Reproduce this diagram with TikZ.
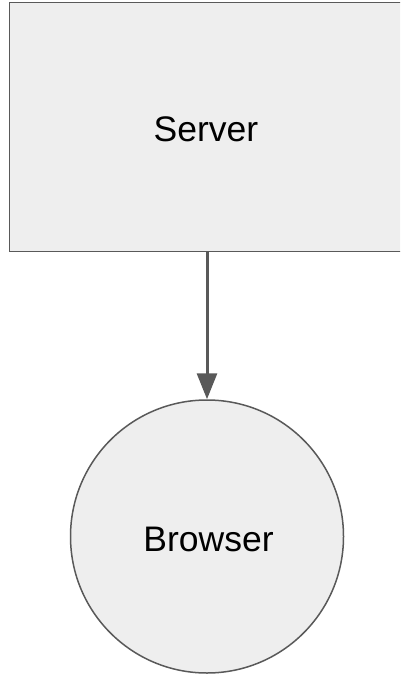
\documentclass[tikz,border=0pt]{standalone}
\usepackage{fontspec}
\setmainfont{Liberation Sans}
\usetikzlibrary{arrows.meta}
\definecolor{boxfill}{HTML}{EEEEEE}
\definecolor{boxline}{HTML}{595959}
\tikzset{
  shapebox/.style={draw=boxline, fill=boxfill, line width=1.5pt},
  label text/.style={font=\fontsize{35.5}{40}\selectfont, text=black, anchor=base, inner sep=0pt},
  flow/.style={draw=boxline, line width=3pt, -{Triangle[length=26pt,width=20pt]}}
}
\begin{document}
\begin{tikzpicture}[x=1pt,y=-1pt]
\useasboundingbox (0,0) rectangle (400,676);
\begin{scope}
\clip (0,0) rectangle (400,676);
\path[shapebox] (9.5,2.5) rectangle (405,251.5);
\end{scope}
\node[label text] (server) at (206,142) {Server};
\coordinate (serverbottom) at (207,251.5);
\node[shapebox, circle, minimum size=273pt, inner sep=0pt] (browser) at (207,536.5) {};
\node[label text] (browsertext) at (208.5,551) {Browser};
\draw[flow] (serverbottom) -- (browser.north);
\end{tikzpicture}
\end{document}
